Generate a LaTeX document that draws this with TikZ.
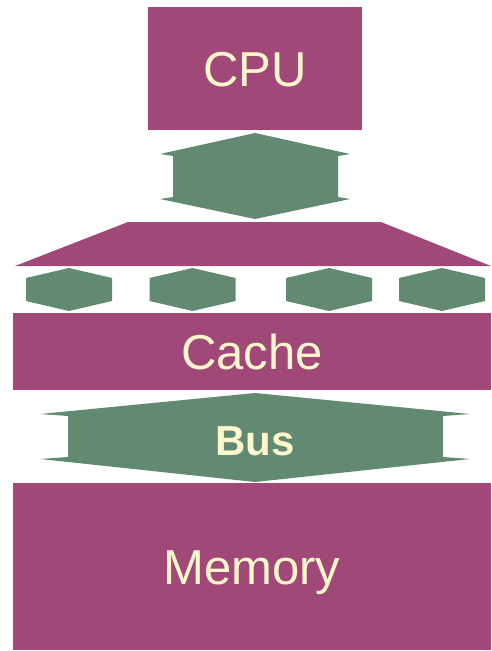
\documentclass[tikz,border=0pt]{standalone}
\usepackage{fontspec}
\setmainfont{Liberation Sans}
\usetikzlibrary{positioning}
\definecolor{unitpink}{RGB}{160,72,120}
\definecolor{linkgreen}{RGB}{98,138,114}
\definecolor{labelcream}{RGB}{255,247,204}
\tikzset{
  unit/.style={fill=unitpink,draw=none,text=labelcream,inner sep=0pt,
    font=\fontsize{49}{49}\selectfont,text height=35pt,text depth=0pt},
  link/.style={fill=linkgreen,draw=none},
  linklabel/.style={text=labelcream,inner sep=0pt,
    font=\bfseries\fontsize{42}{42}\selectfont,text height=30pt,text depth=0pt},
}

\begin{document}
\begin{tikzpicture}[x=1pt,y=-1pt]
  \useasboundingbox (0,0) rectangle (491,651);
  % processor, cache and memory blocks
  \node[unit,minimum width=214pt,minimum height=123pt] (cpu) at (255,68.5) {CPU};
  \node[unit,minimum width=478pt,minimum height=77pt] (cache) at (252,351.5) {Cache};
  \node[unit,minimum width=478pt,minimum height=167pt] (memory) at (252,566.5) {Memory};
  % top of the cache
  \fill[unitpink] (128,222) -- (381,222) -- (491,266) -- (15,266) -- cycle;
  % cpu <-> cache
  \fill[link] (255,133) -- (350,154) -- (338,156) -- (338,197) -- (350,199) -- (255,219)
    -- (160,199) -- (173,197) -- (173,156) -- (160,154) -- cycle;
  % cache lines
  \foreach \x in {69,192.5,329,442}
    \fill[link] (\x,268) -- (\x+43,278) -- (\x+43,301) -- (\x,311)
      -- (\x-43,301) -- (\x-43,278) -- cycle;
  % cache <-> memory
  \fill[link] (255,393) -- (470,414) -- (443,416) -- (443,457) -- (470,459) -- (255,482)
    -- (40,459) -- (68,457) -- (68,416) -- (40,414) -- cycle;
  \node[linklabel] (bus) at (255,440) {Bus};
\end{tikzpicture}
\end{document}
